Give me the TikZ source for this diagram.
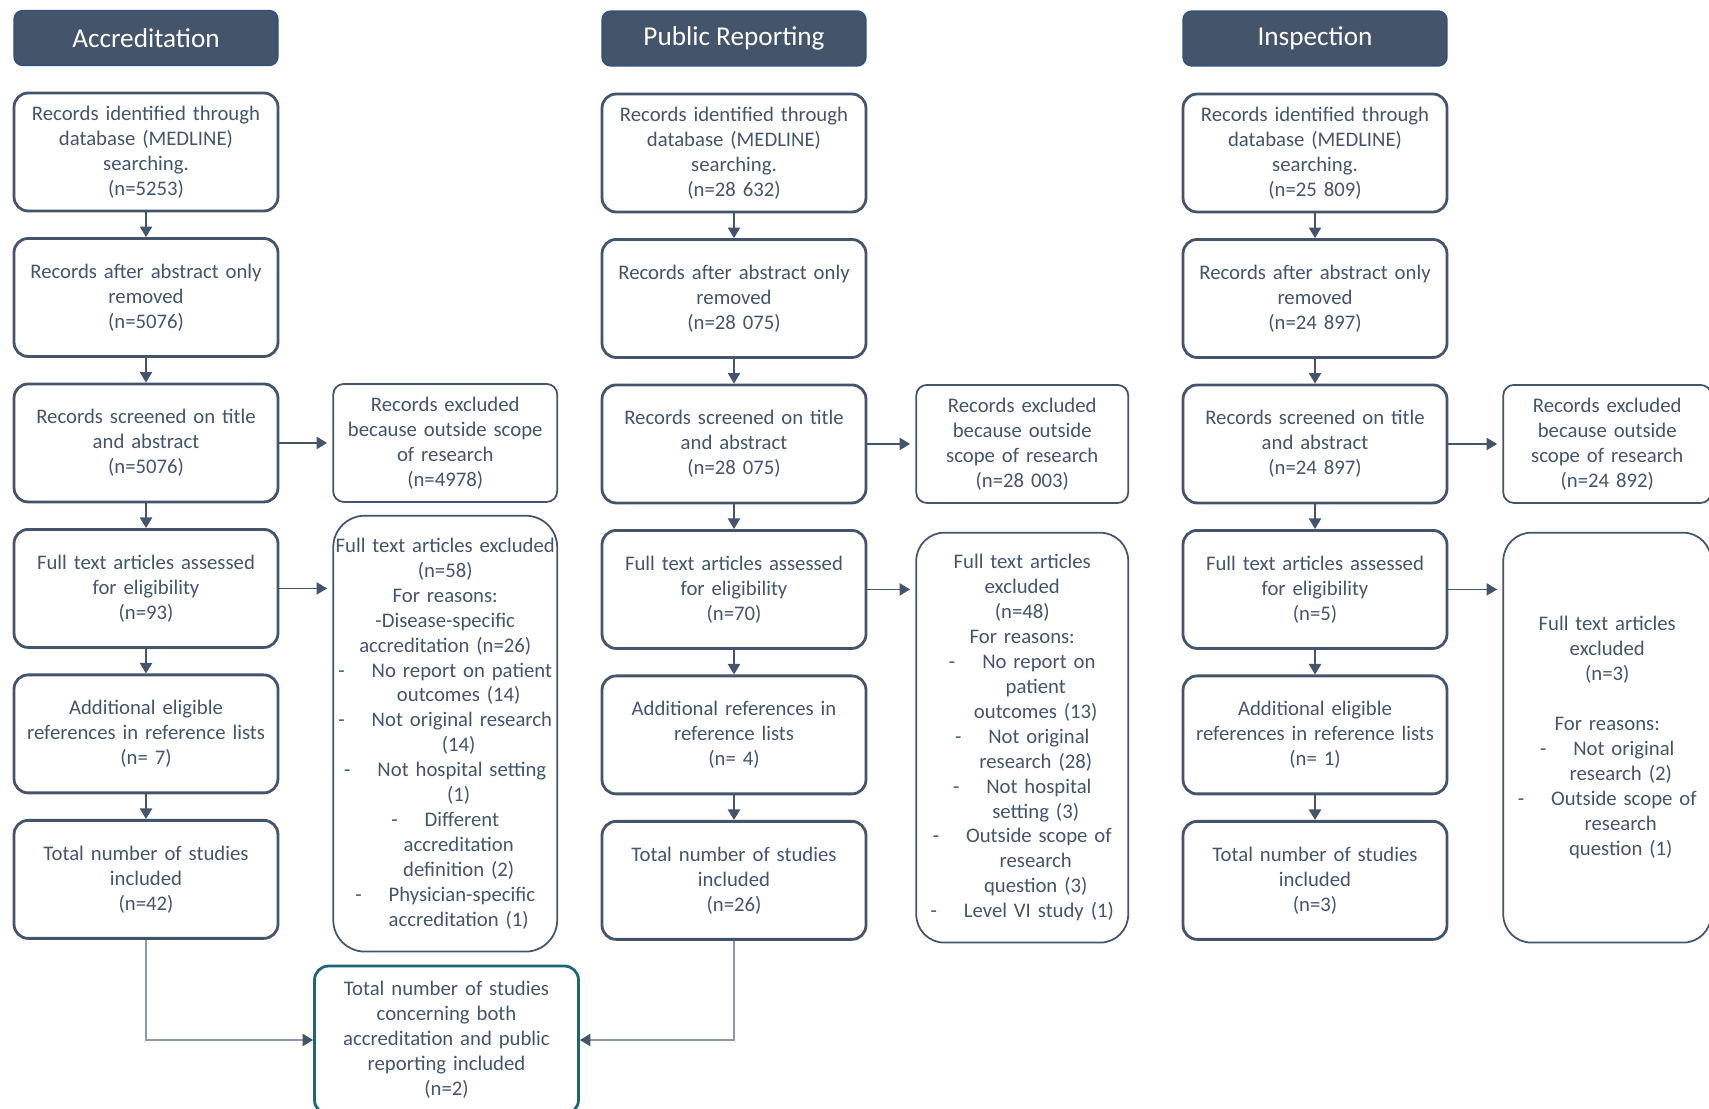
\documentclass[tikz,border=0pt]{standalone}
\usepackage{fontspec}
\setmainfont{Carlito}
\usepackage{tikz}
\usetikzlibrary{arrows.meta}
\usetikzlibrary{positioning}

\definecolor{headfill}{HTML}{44546A}
\definecolor{headedge}{HTML}{2F5080}
\definecolor{boxline}{HTML}{44546A}
\definecolor{boxtext}{HTML}{44546A}
\definecolor{linkgray}{HTML}{8C9AAB}
\definecolor{bothteal}{HTML}{1D6677}

\begin{document}
\begin{tikzpicture}[x=0.02cm, y=-0.02cm,
        nodes={align=center, text=boxtext, font=\fontsize{11.8}{14.2}\selectfont},
        head_style/.style={rectangle, rounded corners=5pt, draw=headedge, line width=0.8pt,
            fill=headfill, text=white, minimum width=5.28cm, minimum height=1.1cm,
            font=\fontsize{15.5}{18}\selectfont},
        step_style/.style={rectangle, rounded corners=8pt, draw=boxline, line width=1.6pt,
            text width=5.1cm, minimum width=5.28cm, minimum height=2.36cm, inner xsep=1pt},
        excl_style/.style={rectangle, rounded corners=6pt, draw=boxline, line width=1pt,
            minimum height=2.36cm, inner xsep=1pt},
        arr/.style={-{Triangle[length=6pt, width=7pt]}, draw=boxline, line width=0.8pt},
        link/.style={-{Triangle[length=6pt, width=7pt, color=boxline]}, draw=linkgray, line width=1pt},
      node distance=2.91cm]

      \useasboundingbox (0,0) rectangle (1709,1108);

      % Accreditation
      \node[head_style] (acc_head) at (146,38) {Accreditation};
      \node[step_style] (acc_ident) at (146,152) {Records identified through\\database (MEDLINE)\\searching.\\(n=5253)};
      \node[step_style, below of=acc_ident] (acc_abs) {Records after abstract only\\removed\\(n=5076)};
      \node[step_style, below of=acc_abs] (acc_screen) {Records screened on title\\and abstract\\(n=5076)};
      \node[step_style, below of=acc_screen] (acc_full) {Full text articles assessed\\for eligibility\\(n=93)};
      \node[step_style, below of=acc_full] (acc_add) {Additional eligible\\references in reference lists\\(n= 7)};
      \node[step_style, below of=acc_add] (acc_total) {Total number of studies\\included\\(n=42)};
      \node[excl_style, right=1.06cm of acc_screen, text width=4.4cm, minimum width=4.48cm] (acc_excl) {Records excluded\\because outside scope\\of research\\(n=4978)};
      \node[excl_style, below=0.24cm of acc_excl, text width=4.4cm, minimum width=4.48cm,
          minimum height=8.72cm, rounded corners=18pt] (acc_full_excl) {Full text articles excluded\\(n=58)\\For reasons:\\-Disease-specific\\accreditation (n=26)\\
          -\hspace{1.3em}No report on patient\\\hspace*{1.3em}outcomes (14)\\
          -\hspace{1.3em}Not original research\\\hspace*{1.3em}(14)\\
          -\hspace{1.3em}Not hospital setting\\\hspace*{1.3em}(1)\\
          -\hspace{1.3em}Different\\\hspace*{1.3em}accreditation\\\hspace*{1.3em}definition (2)\\
          -\hspace{1.3em}Physician-specific\\\hspace*{1.3em}accreditation (1)};

      % Public reporting
      \node[head_style] (pub_head) at (734,38.5) {Public Reporting};
      \node[step_style] (pub_ident) at (734,153) {Records identified through\\database (MEDLINE)\\searching.\\(n=28 632)};
      \node[step_style, below of=pub_ident] (pub_abs) {Records after abstract only\\removed\\(n=28 075)};
      \node[step_style, below of=pub_abs] (pub_screen) {Records screened on title\\and abstract\\(n=28 075)};
      \node[step_style, below of=pub_screen] (pub_full) {Full text articles assessed\\for eligibility\\(n=70)};
      \node[step_style, below of=pub_full] (pub_add) {Additional references in\\reference lists\\(n= 4)};
      \node[step_style, below of=pub_add] (pub_total) {Total number of studies\\included\\(n=26)};
      \node[excl_style, right=0.96cm of pub_screen, text width=4.16cm, minimum width=4.24cm] (pub_excl) {Records excluded\\because outside\\scope of research\\(n=28 003)};
      \node[excl_style, below=0.56cm of pub_excl, text width=4.16cm, minimum width=4.24cm,
          minimum height=8.2cm, rounded corners=16pt] (pub_full_excl) {Full text articles\\excluded\\(n=48)\\For reasons:\\
          -\hspace{1.3em}No report on\\\hspace*{1.3em}patient\\\hspace*{1.3em}outcomes (13)\\
          -\hspace{1.3em}Not original\\\hspace*{1.3em}research (28)\\
          -\hspace{1.3em}Not hospital\\\hspace*{1.3em}setting (3)\\
          -\hspace{1.3em}Outside scope of\\\hspace*{1.3em}research\\\hspace*{1.3em}question (3)\\
          -\hspace{1.3em}Level VI study (1)};

      % Inspection
      \node[head_style] (ins_head) at (1315,38.5) {Inspection};
      \node[step_style] (ins_ident) at (1315,153) {Records identified through\\database (MEDLINE)\\searching.\\(n=25 809)};
      \node[step_style, below of=ins_ident] (ins_abs) {Records after abstract only\\removed\\(n=24 897)};
      \node[step_style, below of=ins_abs] (ins_screen) {Records screened on title\\and abstract\\(n=24 897)};
      \node[step_style, below of=ins_screen] (ins_full) {Full text articles assessed\\for eligibility\\(n=5)};
      \node[step_style, below of=ins_full] (ins_add) {Additional eligible\\references in reference lists\\(n= 1)};
      \node[step_style, below of=ins_add] (ins_total) {Total number of studies\\included\\(n=3)};
      \node[excl_style, right=1.08cm of ins_screen, text width=4.08cm, minimum width=4.16cm] (ins_excl) {Records excluded\\because outside\\scope of research\\(n=24 892)};
      \node[excl_style, below=0.56cm of ins_excl, text width=4.08cm, minimum width=4.16cm,
          minimum height=8.2cm, rounded corners=16pt] (ins_full_excl) {Full text articles\\excluded\\(n=3)\\[14.2pt]For reasons:\\
          -\hspace{1.3em}Not original\\\hspace*{1.3em}research (2)\\
          -\hspace{1.3em}Outside scope of\\\hspace*{1.3em}research\\\hspace*{1.3em}question (1)\\[28pt]};

      % accreditation and public reporting together
      \node[step_style, draw=bothteal, minimum height=2.96cm] (both_total) at (446.5,1040) {Total number of studies\\concerning both\\accreditation and public\\reporting included\\(n=2)};

      \draw[arr] (acc_ident) -- (acc_abs);
      \draw[arr] (acc_abs) -- (acc_screen);
      \draw[arr] (acc_screen) -- (acc_full);
      \draw[arr] (acc_full) -- (acc_add);
      \draw[arr] (acc_add) -- (acc_total);
      \draw[arr, shorten >=3pt] (acc_screen) -- (acc_excl);
      \draw[arr, shorten >=3pt] (acc_full.east) -- (acc_full.east -| acc_full_excl.west);

      \draw[arr] (pub_ident) -- (pub_abs);
      \draw[arr] (pub_abs) -- (pub_screen);
      \draw[arr] (pub_screen) -- (pub_full);
      \draw[arr] (pub_full) -- (pub_add);
      \draw[arr] (pub_add) -- (pub_total);
      \draw[arr, shorten >=3pt] (pub_screen) -- (pub_excl);
      \draw[arr, shorten >=3pt] (pub_full.east) -- (pub_full.east -| pub_full_excl.west);

      \draw[arr] (ins_ident) -- (ins_abs);
      \draw[arr] (ins_abs) -- (ins_screen);
      \draw[arr] (ins_screen) -- (ins_full);
      \draw[arr] (ins_full) -- (ins_add);
      \draw[arr] (ins_add) -- (ins_total);
      \draw[arr, shorten >=3pt] (ins_screen) -- (ins_excl);
      \draw[arr, shorten >=3pt] (ins_full.east) -- (ins_full.east -| ins_full_excl.west);

      \draw[link] (acc_total.south) |- (both_total.west);
      \draw[link] (pub_total.south) |- (both_total.east);
    \end{tikzpicture}
\end{document}
